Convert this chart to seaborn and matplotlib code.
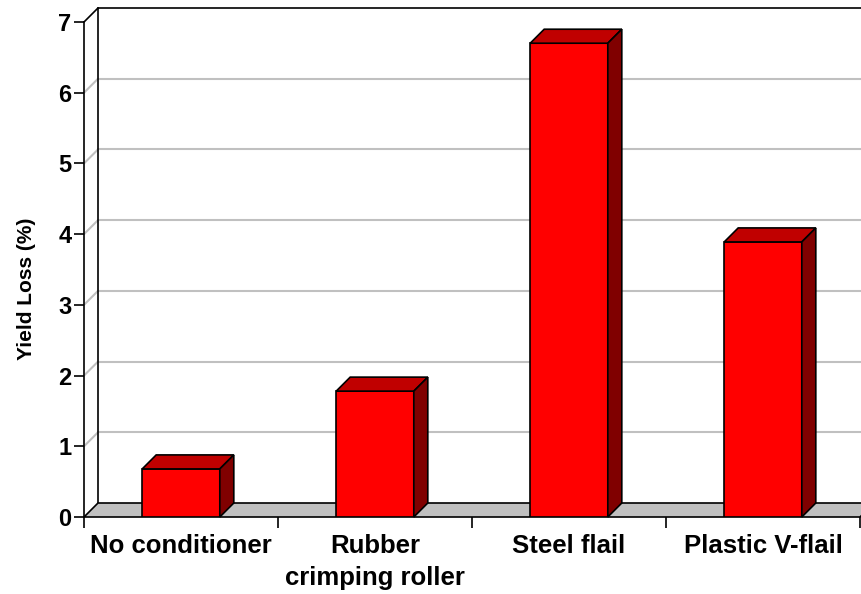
import numpy as np
import pandas as pd
import matplotlib.pyplot as plt
import seaborn as sns
from matplotlib.patches import Polygon

# Dane
categories = ['No conditioner', 'Rubber\ncrimping roller', 'Steel flail', 'Plastic V-flail']
yield_loss = [0.68, 1.78, 6.70, 3.89]
y_ticks = [0, 1, 2, 3, 4, 5, 6, 7]

FRONT = '#ff0000'
TOP = '#c00000'
SIDE = '#800000'
FLOOR = '#c0c0c0'
GRID = '#c0c0c0'
DEPTH_PX = 14  # glebokosc efektu 3D w pikselach

sns.set_style('white')
plt.rcParams['font.family'] = ['Liberation Sans', 'DejaVu Sans']
plt.rcParams['font.weight'] = 'bold'
plt.rcParams['text.color'] = 'black'
plt.rcParams['axes.labelcolor'] = 'black'
plt.rcParams['xtick.color'] = 'black'
plt.rcParams['ytick.color'] = 'black'

fig = plt.figure(figsize=(8.61, 5.94), dpi=100)
ax = fig.add_axes([84 / 861, 77 / 594, 776 / 861, 495 / 594])

df = pd.DataFrame({'cat': categories, 'val': yield_loss})
sns.barplot(data=df, x='cat', y='val', color=FRONT, saturation=1, width=0.4,
            edgecolor='black', linewidth=1.2, ax=ax, zorder=3)

ax.set_xlim(-0.5, len(categories) - 0.5)
ax.set_ylim(0, 7)

# przesuniecie "w glab" w jednostkach danych
p0 = ax.transData.transform((0, 0))
p1 = ax.transData.transform((1, 1))
dx = DEPTH_PX / (p1[0] - p0[0])
dy = DEPTH_PX / (p1[1] - p0[1])
xl, xr = ax.get_xlim()

# tylna sciana - linie siatki
for y in y_ticks[1:-1]:
    ax.plot([xl, xl + dx], [y, y + dy], color=GRID, lw=1.5, zorder=0.5, clip_on=False)
    ax.plot([xl + dx, xr + dx], [y + dy, y + dy], color=GRID, lw=1.5, zorder=0.5, clip_on=False)
top = y_ticks[-1]
ax.plot([xl, xl + dx], [top, top + dy], color='black', lw=1.2, zorder=0.6, clip_on=False)
ax.plot([xl + dx, xr + dx], [top + dy, top + dy], color='black', lw=1.2, zorder=0.6, clip_on=False)
ax.plot([xl + dx, xl + dx], [dy, top + dy], color='black', lw=1.2, zorder=0.6, clip_on=False)

# podloga
floor = Polygon([(xl, 0), (xr, 0), (xr + dx, dy), (xl + dx, dy)], closed=True,
                facecolor=FLOOR, edgecolor='black', lw=1.2, zorder=1, clip_on=False)
ax.add_patch(floor)

# boki i wierzch slupkow
for bar in list(ax.patches):
    if bar is floor:
        continue
    x0 = bar.get_x()
    x1 = x0 + bar.get_width()
    h = bar.get_height()
    ax.add_patch(Polygon([(x0, h), (x1, h), (x1 + dx, h + dy), (x0 + dx, h + dy)], closed=True,
                         facecolor=TOP, edgecolor='black', lw=1.2, zorder=3, clip_on=False))
    ax.add_patch(Polygon([(x1, 0), (x1 + dx, dy), (x1 + dx, h + dy), (x1, h)], closed=True,
                         facecolor=SIDE, edgecolor='black', lw=1.2, zorder=3, clip_on=False))

# osie
for s in ['top', 'right', 'bottom']:
    ax.spines[s].set_visible(False)
ax.spines['left'].set_color('black')
ax.spines['left'].set_linewidth(1.2)
ax.spines['left'].set_zorder(4)

ax.set_yticks(y_ticks)
ax.set_yticklabels([str(t) for t in y_ticks], fontsize=17, fontweight='bold')
ax.tick_params(axis='y', left=True, length=7, width=1.2, color='black', pad=2)

ax.set_xticks(range(len(categories)))
ax.set_xticklabels(categories, fontsize=18.5, fontweight='bold', linespacing=1.45)
ax.set_xticks(np.arange(-0.5, len(categories), 1), minor=True)
ax.tick_params(axis='x', which='major', bottom=False, length=0, pad=12)
ax.tick_params(axis='x', which='minor', bottom=True, length=8, width=1.2, color='black')

ax.set_xlabel('')
ax.set_ylabel('Yield Loss (%)', fontsize=15, fontweight='bold')
ax.yaxis.set_label_coords(-0.062, 0.46)
ax.grid(False)

fig.savefig('out.png', dpi=100)
